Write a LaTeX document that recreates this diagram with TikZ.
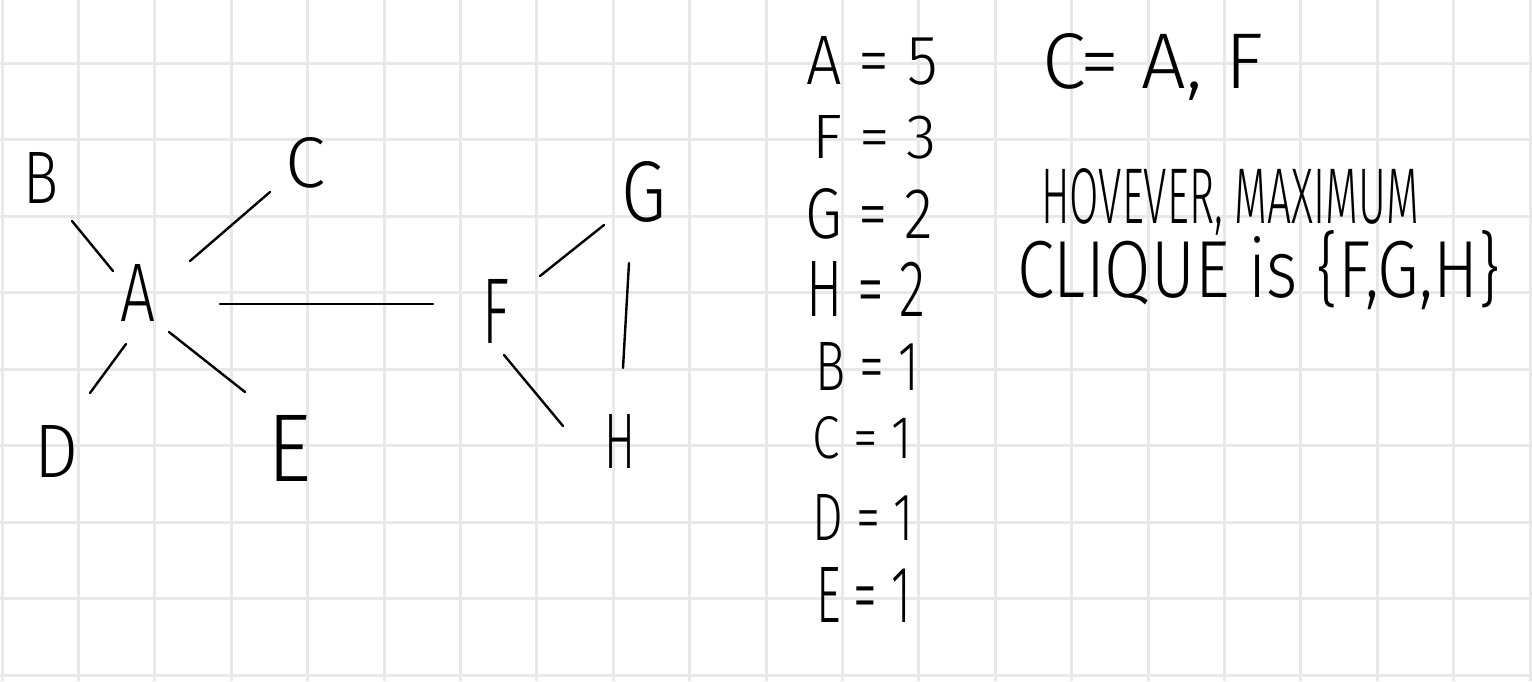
\documentclass[tikz,border=0pt]{standalone}
\usepackage{fontspec}
\usepackage{graphicx}
\setmainfont{Fira Sans Light}
\newcommand\hw[3]{\resizebox{#1pt}{#2pt}{#3}}
\begin{document}
\begin{tikzpicture}[x=1pt,y=-1pt,
  gridline/.style={line width=3pt,draw=black!9},
  edge/.style={line width=2.4pt,line cap=round,draw=black},
  vert/.style={inner sep=0pt,outer sep=0pt,anchor=center},
  txt/.style={inner sep=0pt,outer sep=0pt,anchor=base west}]
\fill[white] (0,0) rectangle (1532,681);
\useasboundingbox (0,0) rectangle (1532,681);
% grid
\foreach \k in {0,...,20} \draw[gridline] ({2+76.4*\k},0) -- ({2+76.4*\k},681);
\foreach \k in {0,...,8} \draw[gridline] (0,{63+76.5*\k}) -- (1532,{63+76.5*\k});
% graph vertices
\node[vert] (B) at (41,178) {\hw{35}{51}{B}};
\node[vert] (C) at (305,163) {\hw{40}{50}{C}};
\node[vert] (A) at (138,293) {\hw{35}{57}{A}};
\node[vert] (D) at (57,451) {\hw{44}{52}{D}};
\node[vert] (E) at (290,448) {\hw{44}{66}{E}};
\node[vert] (F) at (496,311) {\hw{27}{64}{F}};
\node[vert] (G) at (644,192) {\hw{45}{60}{G}};
\node[vert] (H) at (620,441) {\hw{31}{54}{H}};
% edges
\draw[edge] ([shift={(31,43)}]B.center) -- ([shift={(-25,-22)}]A.center);
\draw[edge] ([shift={(52,-32)}]A.center) -- ([shift={(-35,29)}]C.center);
\draw[edge] ([shift={(82,11)}]A.center) -- ([shift={(-63,-7)}]F.center);
\draw[edge] ([shift={(-12,51)}]A.center) -- ([shift={(33,-58)}]D.center);
\draw[edge] ([shift={(31,39)}]A.center) -- ([shift={(-45,-56)}]E.center);
\draw[edge] ([shift={(44,-35)}]F.center) -- ([shift={(-40,33)}]G.center);
\draw[edge] ([shift={(-15,71)}]G.center) -- ([shift={(3,-73)}]H.center);
\draw[edge] ([shift={(8,44)}]F.center) -- ([shift={(-57,-15)}]H.center);
% degree list
\node[txt] (dA) at (806,84)  {\hw{132}{48}{A = 5}};
\node[txt] (dF) at (812,158) {\hw{125}{43}{F = 3}};
\node[txt] (dG) at (805,238) {\hw{128}{50}{G = 2}};
\node[txt] (dH) at (806,316) {\hw{119}{55}{H = 2}};
\node[txt] (dB) at (815,390) {\hw{104}{48}{B = 1}};
\node[txt] (dC) at (812,458) {\hw{100}{42}{C = 1}};
\node[txt] (dD) at (812,540) {\hw{102}{46}{D = 1}};
\node[txt] (dE) at (816,622) {\hw{95}{55}{E = 1}};
% notes
\node[txt] (n1) at (1042,88)  {\hw{221}{55}{C= A, F}};
\node[txt] (n2) at (1041,223) {\hw{378}{55}{HOVEVER, MAXIMUM}};
\node[txt] (n3) at (1017,297) {\hw{483}{67}{CLIQUE is \{F,G,H\}}};
\end{tikzpicture}
\end{document}
